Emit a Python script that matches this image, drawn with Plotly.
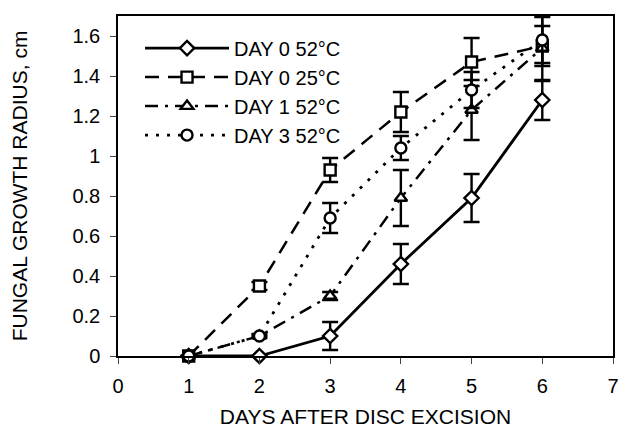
import plotly.graph_objects as go

days = [1, 2, 3, 4, 5, 6]

names = ["DAY 0 52°C", "DAY 0 25°C", "DAY 1 52°C", "DAY 3 52°C"]

day0_52 = [0.0, 0.0, 0.10, 0.46, 0.79, 1.28]
day0_52_err = [0.0, 0.0, 0.07, 0.10, 0.12, 0.10]

day0_25 = [0.0, 0.35, 0.93, 1.22, 1.47, 1.55]
day0_25_err = [0.0, 0.02, 0.06, 0.10, 0.12, 0.10]

day1_52 = [0.0, 0.10, 0.30, 0.79, 1.23, 1.54]
day1_52_err = [0.0, 0.0, 0.02, 0.14, 0.15, 0.165]

day3_52 = [0.0, 0.10, 0.69, 1.04, 1.33, 1.58]
day3_52_err = [0.0, 0.01, 0.075, 0.06, 0.09, 0.115]

x_ticks = [0, 1, 2, 3, 4, 5, 6, 7]
y_ticks = [0, 0.2, 0.4, 0.6, 0.8, 1.0, 1.2, 1.4, 1.6]

series = [
    (names[0], day0_52, day0_52_err, "diamond", "solid", 2.8),
    (names[1], day0_25, day0_25_err, "square", "14px,9px", 2.5),
    (names[2], day1_52, day1_52_err, "triangle-up", "13px,7px,3px,7px", 2.5),
    (names[3], day3_52, day3_52_err, "circle", "3px,8px", 2.8),
]

FONT = "Liberation Sans, Arial, sans-serif"

fig = go.Figure()
for i, (nm, ys, er, sym, dash, lw) in enumerate(series):
    fig.add_trace(go.Scatter(
        x=days, y=ys, name=nm, mode="lines+markers",
        line=dict(color="black", width=lw, dash=dash),
        marker=dict(symbol=sym, size=11, color="white",
                    line=dict(color="black", width=2.4)),
        error_y=dict(type="data", array=er, visible=True,
                     color="black", thickness=2.4, width=8),
        legendgroup=f"g{i}",
        cliponaxis=False,
    ))

fig.update_layout(
    width=641, height=435,
    margin=dict(l=110, r=36, t=6, b=87),
    paper_bgcolor="white", plot_bgcolor="white",
    font=dict(family=FONT, size=20, color="black"),
    showlegend=True,
    legend=dict(x=0.0445, y=0.963, xanchor="left", yanchor="top",
                bgcolor="rgba(0,0,0,0)", font=dict(size=20, family=FONT),
                tracegroupgap=0, itemwidth=84),
    xaxis=dict(range=[0, 7], tickvals=x_ticks, ticks="outside", ticklen=6,
               tickwidth=1, showline=True, linecolor="black", linewidth=1.5,
               mirror=True, showgrid=False, zeroline=False,
               ticklabelstandoff=5,
               title=dict(text="DAYS AFTER DISC EXCISION", font=dict(size=21), standoff=14),
               tickfont=dict(size=20)),
    yaxis=dict(range=[0, 1.7], tickvals=y_ticks, ticks="outside", ticklen=6,
               tickwidth=1, showline=True, linecolor="black", linewidth=1.5,
               mirror=True, showgrid=False, zeroline=False,
               ticklabelstandoff=6,
               title=dict(text="FUNGAL GROWTH RADIUS, cm", font=dict(size=21), standoff=40),
               tickfont=dict(size=20)),
)

fig.write_html("out.html")
